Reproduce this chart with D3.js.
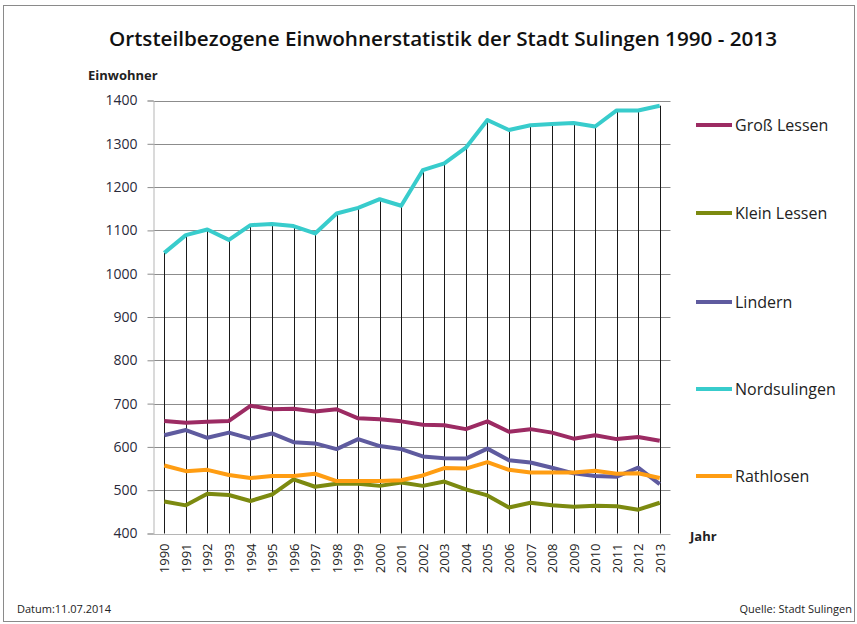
<!DOCTYPE html>
<html>
<head>
<meta charset="utf-8">
<script src="https://cdn.jsdelivr.net/npm/d3@7"></script>
<style>
  body { margin: 0; background: #fff; }
  text { font-family: "Open Sans", "DejaVu Sans", sans-serif; fill: #222; }
</style>
</head>
<body>
<svg id="chart"></svg>
<script>
const years = [1990, 1991, 1992, 1993, 1994, 1995, 1996, 1997, 1998, 1999, 2000, 2001,
  2002, 2003, 2004, 2005, 2006, 2007, 2008, 2009, 2010, 2011, 2012, 2013];

const grossLessen = [660, 656, 658, 660, 695, 687, 688, 682, 687, 666, 664, 659,
  651, 650, 641, 659, 635, 641, 633, 619, 627, 618, 623, 614];
const kleinLessen = [474, 465, 492, 489, 475, 490, 525, 508, 515, 515, 510, 518,
  510, 520, 502, 488, 460, 471, 465, 462, 464, 463, 455, 471];
const lindern = [627, 639, 621, 633, 619, 631, 611, 608, 595, 618, 602, 595,
  578, 574, 573, 596, 569, 564, 552, 539, 533, 531, 552, 514];
const nordsulingen = [1048, 1089, 1102, 1078, 1112, 1115, 1110, 1093, 1139, 1152, 1172, 1157,
  1239, 1255, 1291, 1355, 1332, 1343, 1346, 1348, 1340, 1377, 1377, 1388];
const rathlosen = [557, 544, 547, 535, 528, 533, 533, 538, 521, 521, 521, 523,
  534, 551, 550, 565, 547, 541, 541, 541, 545, 538, 539, 528];

const seriesNames = ["Groß Lessen", "Klein Lessen", "Lindern", "Nordsulingen", "Rathlosen"];
const seriesColors = ["#9c2b63", "#7c8a10", "#5f5b9f", "#38cccc", "#ff9d12"];
const yTicks = [400, 500, 600, 700, 800, 900, 1000, 1100, 1200, 1300, 1400];

const seriesData = [grossLessen, kleinLessen, lindern, nordsulingen, rathlosen];

const W = 857, H = 624;
const plot = {left: 153.5, right: 670.5, top: 100.5, bottom: 533.5};

const svg = d3.select("#chart").attr("width", W).attr("height", H);

// outer frame
svg.append("rect")
  .attr("x", 3.5).attr("y", 5.5)
  .attr("width", 851).attr("height", 616)
  .attr("fill", "#fff")
  .attr("stroke", "#8a8a8a");

const x = d3.scalePoint()
  .domain(years)
  .range([plot.left, plot.right])
  .padding(0.5);
const y = d3.scaleLinear()
  .domain([400, 1400])
  .range([plot.bottom, plot.top]);

// title
svg.append("text")
  .attr("x", 443).attr("y", 46)
  .attr("text-anchor", "middle")
  .attr("textLength", 668)
  .attr("lengthAdjust", "spacingAndGlyphs")
  .style("font-size", "20px")
  .style("font-weight", "600")
  .style("fill", "#111")
  .text("Ortsteilbezogene Einwohnerstatistik der Stadt Sulingen 1990 - 2013");

// gridlines
svg.append("g")
  .selectAll("line")
  .data(yTicks)
  .join("line")
    .attr("x1", plot.left).attr("x2", plot.right)
    .attr("y1", d => Math.round(y(d)) + 0.5)
    .attr("y2", d => Math.round(y(d)) + 0.5)
    .attr("stroke", d => d == 400 ? "#b5b5b5" : "#8c8c8c")
    .attr("stroke-width", 1);

// y axis
const yAxis = d3.axisLeft(y)
  .tickValues(yTicks)
  .tickSize(6)
  .tickPadding(10)
  .tickFormat(d3.format("d"));
const gy = svg.append("g")
  .attr("transform", "translate(" + plot.left + ",0)")
  .call(yAxis);
gy.select(".domain").attr("stroke", "#b5b5b5");
gy.selectAll(".tick line").attr("stroke", "#8c8c8c");
gy.selectAll(".tick text")
  .style("font-size", "14px")
  .style("fill", "#2a2a3a")
  .style("font-family", "'Open Sans', sans-serif");

// x axis labels (rotated)
const xAxis = d3.axisBottom(x).tickSize(0).tickPadding(0);
const gx = svg.append("g")
  .attr("transform", "translate(0," + plot.bottom + ")")
  .call(xAxis);
gx.select(".domain").remove();
gx.selectAll(".tick text")
  .attr("transform", "rotate(-90)")
  .attr("x", -10)
  .attr("y", 0)
  .attr("dy", "0.35em")
  .attr("text-anchor", "end")
  .style("font-size", "13px")
  .style("fill", "#222");

// drop lines from the top series down to the axis
svg.append("g")
  .selectAll("line")
  .data(years)
  .join("line")
    .attr("x1", d => Math.round(x(d)) + 0.5)
    .attr("x2", d => Math.round(x(d)) + 0.5)
    .attr("y1", (d, i) => y(nordsulingen[i]))
    .attr("y2", plot.bottom)
    .attr("stroke", "#1a1a1a")
    .attr("stroke-width", 1);

// series lines
const line = d3.line()
  .x((d, i) => x(years[i]))
  .y(d => y(d));

svg.append("g")
  .selectAll("path")
  .data(seriesData)
  .join("path")
    .attr("fill", "none")
    .attr("stroke", (d, i) => seriesColors[i])
    .attr("stroke-width", 4)
    .attr("stroke-linejoin", "round")
    .attr("d", line);

// axis titles
svg.append("text")
  .attr("x", 88).attr("y", 80)
  .style("font-size", "13px")
  .style("font-weight", "bold")
  .text("Einwohner");
svg.append("text")
  .attr("x", 690).attr("y", 541)
  .style("font-size", "13px")
  .style("font-weight", "bold")
  .text("Jahr");

// legend
const legendY = [125, 213, 302, 389, 476];
const legend = svg.selectAll(".legend")
  .data(seriesNames)
  .join("g")
    .attr("class", "legend")
    .attr("transform", (d, i) => "translate(696," + legendY[i] + ")");
legend.append("line")
  .attr("x1", 0).attr("x2", 36)
  .attr("stroke", (d, i) => seriesColors[i])
  .attr("stroke-width", 4);
legend.append("text")
  .attr("x", 39)
  .attr("dy", "0.35em")
  .style("font-size", "16px")
  .text(d => d);

// footer
svg.append("text")
  .attr("x", 17).attr("y", 613)
  .style("font-size", "11px")
  .text("Datum:11.07.2014");
svg.append("text")
  .attr("x", 852).attr("y", 613)
  .attr("text-anchor", "end")
  .style("font-size", "11px")
  .text("Quelle: Stadt Sulingen");
</script>
</body>
</html>
